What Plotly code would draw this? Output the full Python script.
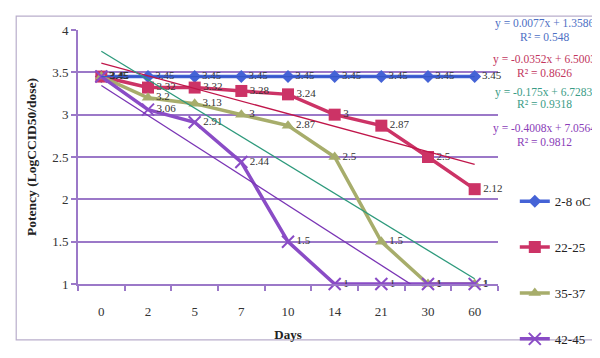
import numpy as np
import plotly.graph_objects as go

days = ["0", "2", "5", "7", "10", "14", "21", "30", "60"]
s_2_8 = [3.45, 3.45, 3.45, 3.45, 3.45, 3.45, 3.45, 3.45, 3.45]
s_22_25 = [3.45, 3.32, 3.32, 3.28, 3.24, 3.0, 2.87, 2.5, 2.12]
s_35_37 = [3.45, 3.2, 3.13, 3.0, 2.87, 2.5, 1.5, 1.0, 1.0]
s_42_45 = [3.45, 3.06, 2.91, 2.44, 1.5, 1.0, 1.0, 1.0, 1.0]
names = ["2-8 oC", "22-25", "35-37", "42-45"]
equations = [("y = 0.0077x + 1.3586", "R² = 0.548"),
             ("y = -0.0352x + 6.5003", "R² = 0.8626"),
             ("y = -0.175x + 6.7283", "R² = 0.9318"),
             ("y = -0.4008x + 7.0564", "R² = 0.9812")]
yticks = [1, 1.5, 2, 2.5, 3, 3.5, 4]

series = [s_2_8, s_22_25, s_35_37, s_42_45]
colors = ["#4563D6", "#CC3366", "#A7AD6B", "#8A4CC6"]
trend_colors = ["#3558C8", "#C0164A", "#2E9A7C", "#7A35B5"]
eq_colors = ["#4D6FC4", "#C2365E", "#3A9C86", "#8A3DB8"]
symbols = ["diamond", "square", "triangle-up", "x-thin-open"]
msizes = [10, 12, 11, 12]
serif = "Liberation Serif, Times New Roman, serif"

fig = go.Figure()
for i, (name, ys) in enumerate(zip(names, series)):
    mk = dict(symbol=symbols[i], size=msizes[i], color=colors[i])
    if symbols[i].startswith("x"):
        mk["line"] = dict(color=colors[i], width=2)
    fig.add_trace(go.Scatter(
        x=days, y=ys, name=name, mode="lines+markers+text",
        text=[f"{v:g}" for v in ys], textposition="middle right",
        textfont=dict(family=serif, size=11, color="#333333"),
        line=dict(color=colors[i], width=3.5), marker=mk,
        cliponaxis=False, legendgroup=name))

idx = np.arange(1, len(days) + 1)
for i, ys in enumerate(series):
    k, b = np.polyfit(idx, np.array(ys), 1)
    fig.add_trace(go.Scatter(
        x=[days[0], days[-1]], y=[k * idx[0] + b, k * idx[-1] + b],
        mode="lines", line=dict(color=trend_colors[i], width=1.3),
        showlegend=False, hoverinfo="skip"))

anns = []
eq_y = [[15, 29], [54, 68], [89, 102], [128, 142]]
for i, (e, r) in enumerate(equations):
    for t, py in zip((e, r), eq_y[i]):
        anns.append(dict(text=t, xref="paper", yref="paper",
                         x=(553 - 70) / 435, y=(295 - py) / 273,
                         showarrow=False, xanchor="center", yanchor="middle",
                         font=dict(family=serif, size=11.5, color=eq_colors[i])))

grid = "#9B78C8"
fig.update_layout(
    width=600, height=358, margin=dict(l=70, r=95, t=22, b=63),
    paper_bgcolor="white", plot_bgcolor="white",
    font=dict(family=serif, size=13, color="#222222"),
    showlegend=True,
    legend=dict(x=1.04, xanchor="left", y=0.385, yanchor="top",
                tracegroupgap=26, font=dict(family=serif, size=13, color="#222222"),
                itemwidth=30, bgcolor="rgba(0,0,0,0)"),
    annotations=anns,
    shapes=[dict(type="rect", xref="paper", yref="paper",
                 x0=(6 - 70) / 435, x1=(603 - 70) / 435,
                 y0=(295 - 355) / 273, y1=(295 - 7) / 273,
                 line=dict(color="#B9AECB", width=1.2), layer="below")],
    xaxis=dict(type="category", categoryorder="array", categoryarray=days,
               range=[-0.5, len(days) - 0.5], showgrid=False,
               showline=True, linecolor=grid, linewidth=2,
               ticks="outside", tickson="boundaries", ticklen=5, tickcolor=grid,
               tickwidth=1.5, ticklabelstandoff=14,
               tickfont=dict(family=serif, size=13, color="#333333"),
               title=dict(text="<b>Days</b>", font=dict(family=serif, size=13, color="#222222"),
                          standoff=12)),
    yaxis=dict(range=[1, 4], tickvals=yticks, ticktext=[f"{v:g}" for v in yticks],
               showgrid=True, gridcolor=grid, gridwidth=1.5,
               showline=True, linecolor=grid, linewidth=2,
               ticks="outside", ticklen=5, tickcolor=grid, tickwidth=1.5,
               zeroline=False, tickfont=dict(family=serif, size=13, color="#333333"),
               title=dict(text="<b>Potency (LogCCID50/dose)</b>",
                          font=dict(family=serif, size=13.5, color="#222222"), standoff=12)),
)
fig.write_html("out.html")
